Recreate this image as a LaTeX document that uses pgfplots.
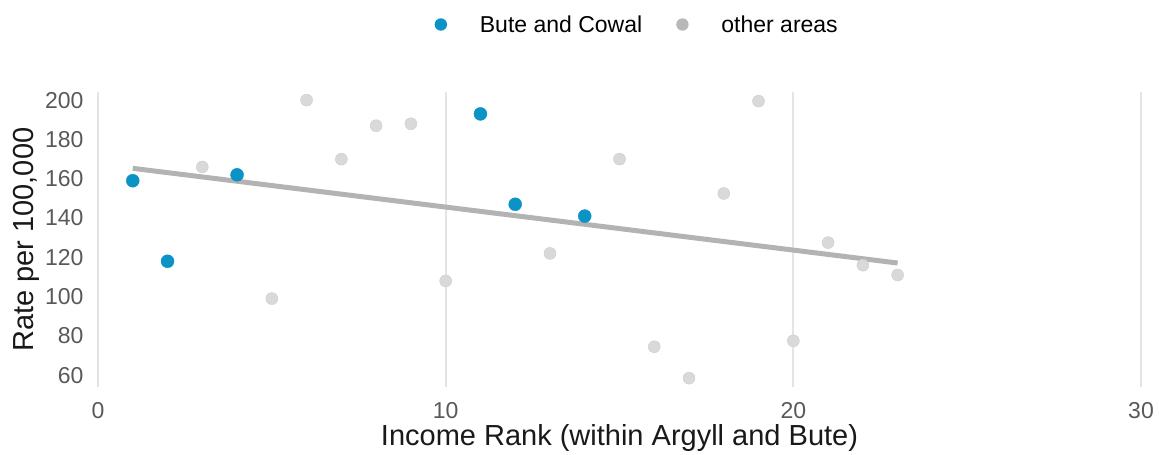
\documentclass[border=0pt]{standalone}
\usepackage{fontspec}
\setmainfont{Liberation Sans}
\usepackage{pgfplots}
\pgfplotsset{compat=1.18}
\definecolor{bute}{HTML}{0A93C4}
\definecolor{otherpt}{HTML}{D9D9D9}
\definecolor{otheredge}{HTML}{CDCDCD}
\definecolor{otherleg}{HTML}{B8B8B8}
\definecolor{trend}{HTML}{B3B3B3}
\definecolor{gridc}{HTML}{E4E4E4}
\definecolor{tickc}{HTML}{595959}
\begin{document}
\begin{tikzpicture}
\begin{axis}[
  at={(0,0)}, anchor=south west,
  scale only axis,
  width=1043bp, height=294.7bp,
  xmin=0, xmax=30, ymin=54, ymax=204,
  xtick={0,10,20,30}, ytick={60,80,...,200},
  axis line style={draw=none},
  major tick length=0pt,
  xmajorgrids, ymajorgrids=false,
  grid style={gridc, line width=1.8bp},
  /pgf/number format/assume math mode=true,
  /pgf/number format/1000 sep={},
  ticklabel style={font=\fontsize{23bp}{27bp}\selectfont, text=tickc},
  xticklabel style={yshift=-12bp},
  yticklabel style={xshift=-11bp},
  xlabel={Income Rank (within Argyll and Bute)},
  ylabel={Rate per 100,000},
  label style={font=\fontsize{29bp}{34bp}\selectfont, text=black!90},
  xlabel style={at={(axis description cs:0.5,0)}, anchor=base, yshift=-58bp},
  ylabel style={at={(axis description cs:-0.069,0.5)}, anchor=center},
  legend columns=2,
  legend image code/.code={\path[draw=none,fill=none] (-6bp,0) -- (37bp,0); \fill[draw=none,#1] (0bp,0bp) circle (6.2bp);},
  legend style={draw=none, fill=none, at={(axis description cs:0.517,1.23)}, anchor=center,
    font=\fontsize{23bp}{27bp}\selectfont,
    /tikz/every even column/.append style={column sep=32bp}},
]
\addlegendimage{draw=none, fill=bute}
\addlegendentry{Bute and Cowal}
\addlegendimage{draw=none, fill=otherleg}
\addlegendentry{other areas}
% other areas
\addplot[only marks, mark=*, mark size=6bp, draw=otheredge, fill=otherpt, forget plot] coordinates {
(3,166) (5,99) (6,200) (7,170) (8,187) (9,188) (10,108) (13,122) (15,170)
(16,74.5) (17,58.5) (18,152.5) (19,199.5) (20,77.5) (21,127.5) (22,116) (23,111)
};
% trend line
\addplot[trend, line width=5bp, forget plot] coordinates {(1,165.3) (23,117.1)};
% Bute and Cowal
\addplot[only marks, mark=*, mark size=6.5bp, draw=bute, fill=bute, forget plot] coordinates {
(1,159) (2,118) (4,162) (11,193) (12,147) (14,141)
};
\end{axis}
\pgfresetboundingbox
\path[use as bounding box] (-98bp,-68bp) rectangle (1061bp,387bp);
\end{tikzpicture}
\end{document}
